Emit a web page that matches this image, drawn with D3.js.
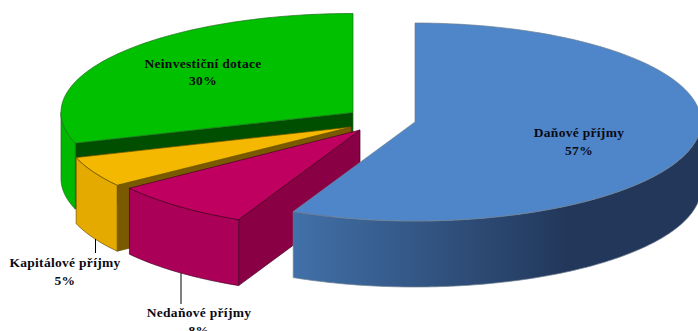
<!DOCTYPE html>
<html lang="cs">
<head>
<meta charset="utf-8">
<title>Struktura příjmů</title>
<script src="https://cdn.jsdelivr.net/npm/d3@7"></script>
<style>
  html, body { margin: 0; padding: 0; background: #fff; overflow: hidden; }
  svg { display: block; }
  text { font-family: "Liberation Serif", serif; font-weight: bold; font-size: 13.5px; fill: #0a0a14; text-anchor: middle; letter-spacing: 0.3px; }
</style>
</head>
<body>
<svg id="chart" width="698" height="331"></svg>
<script>
// Budget income shares, clockwise from twelve o'clock
const categories = ["Daňové příjmy", "Nedaňové příjmy", "Kapitálové příjmy", "Neinvestiční dotace"];
const shares = [57, 8, 5, 30];

// Perspective of the tilted disc; each exploded slice has its own horizontal radius
const radiiX = [286, 285, 289, 292];
const radiusY = 99, depth = 66;

// Exploded centre of each slice, in the order of the categories
const centres = [[415, 122], [360, 130], [351, 127], [353, 112.5]];
const topColours = ["#4f86c9", "#c00060", "#f5b800", "#00c000"];
const rimColours = ["url(#rimBlue)", "#ab0057", "#e5aa00", "#00b800"];
const wallColours = ["#22375a", "#8a0045", "#7a5a00", "#004f00"];
const edgeColours = ["#6f7f90", "#4a0028", "#6b5200", "#1d6b1d"];

// Label block of each slice: anchor, line positions, optional leader
const labelLayout = [
  { x: 579, y: [137, 155] },
  { x: 199, y: [317, 335], leader: [181, 273, 304] },
  { x: 65, y: [267, 285], leader: [95.5, 239, 253] },
  { x: 203, y: [68, 85] }
];

const svg = d3.select("#chart");

const defs = svg.append("defs");
const rimBlue = defs.append("linearGradient")
  .attr("id", "rimBlue").attr("gradientUnits", "userSpaceOnUse")
  .attr("x1", 295).attr("x2", 570).attr("y1", 0).attr("y2", 0);
rimBlue.append("stop").attr("offset", 0).attr("stop-color", "#4170a8");
rimBlue.append("stop").attr("offset", 1).attr("stop-color", "#22375a");

const slices = d3.pie().sort(null).value(d => d)(shares);

const project = (c, rx, a, drop = 0) => [
  c[0] + rx * Math.sin(a),
  c[1] - radiusY * Math.cos(a) + drop
];

const line = d3.line();
const arcPoints = (c, rx, a0, a1, drop = 0) => {
  const n = Math.max(2, Math.ceil(Math.abs(a1 - a0) * 60));
  return d3.range(n + 1).map(i => project(c, rx, a0 + (a1 - a0) * i / n, drop));
};

const g = svg.append("g");

// Slices are painted back to front so the nearer ones cover the farther
[3, 2, 1, 0].forEach(i => {
  const s = slices[i], c = centres[i], rx = radiiX[i];
  const slice = g.append("g").attr("stroke", edgeColours[i]).attr("stroke-width", 0.7).attr("stroke-linejoin", "round");

  // Cut face that looks towards the viewer
  if (i !== 0) {
    const rimEnd = project(c, rx, s.startAngle);
    const rimEndLow = project(c, rx, s.startAngle, depth);
    slice.append("path")
      .attr("fill", wallColours[i])
      .attr("d", line([c, rimEnd, rimEndLow, [c[0], c[1] + depth]]) + "Z");
  }

  // Outer rim, front half of the disc only
  const a0 = Math.max(s.startAngle, Math.PI / 2);
  const a1 = Math.min(s.endAngle, 1.5 * Math.PI);
  slice.append("path")
    .attr("fill", rimColours[i])
    .attr("d", line(arcPoints(c, rx, a0, a1).concat(arcPoints(c, rx, a1, a0, depth))) + "Z");

  // Top face
  slice.append("path")
    .attr("fill", topColours[i])
    .attr("d", line([c].concat(arcPoints(c, rx, s.startAngle, s.endAngle))) + "Z");
});

// Leaders and labels
labelLayout.forEach((l, i) => {
  if (l.leader) {
    g.append("line")
      .attr("x1", l.leader[0]).attr("x2", l.leader[0])
      .attr("y1", l.leader[1]).attr("y2", l.leader[2])
      .attr("stroke", "#000").attr("stroke-width", 1);
  }
  g.append("text").attr("x", l.x).attr("y", l.y[0]).text(categories[i]);
  g.append("text").attr("x", l.x).attr("y", l.y[1]).text(shares[i] + "%");
});
</script>
</body>
</html>
